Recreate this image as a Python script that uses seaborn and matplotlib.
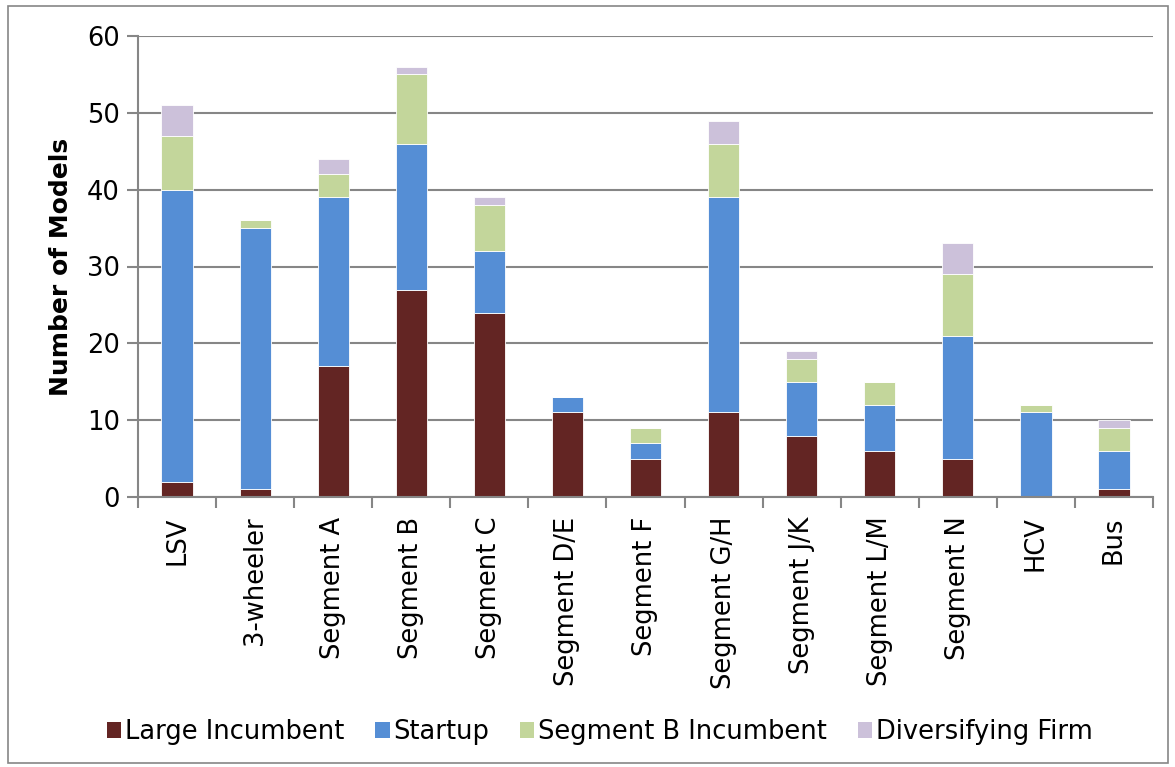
import matplotlib
matplotlib.use("Agg")
import matplotlib.pyplot as plt
import seaborn as sns
import numpy as np
from matplotlib.patches import Patch, Rectangle
from matplotlib.ticker import FixedLocator

categories = ["LSV", "3-wheeler", "Segment A", "Segment B", "Segment C", "Segment D/E",
              "Segment F", "Segment G/H", "Segment J/K", "Segment L/M", "Segment N", "HCV", "Bus"]
large_incumbent = [2, 1, 17, 27, 24, 11, 5, 11, 8, 6, 5, 0, 1]
startup = [38, 34, 22, 19, 8, 2, 2, 28, 7, 6, 16, 11, 5]
segment_b_incumbent = [7, 1, 3, 9, 6, 0, 2, 7, 3, 3, 8, 1, 3]
diversifying_firm = [4, 0, 2, 1, 1, 0, 0, 3, 1, 0, 4, 0, 1]

series_names = ["Large Incumbent", "Startup", "Segment B Incumbent", "Diversifying Firm"]
series_values = [large_incumbent, startup, segment_b_incumbent, diversifying_firm]
colors = ["#632523", "#558ED5", "#C3D69B", "#CCC1DA"]

sns.set_style("white")
plt.rcParams['font.family'] = ['DejaVu Sans']
plt.rcParams['text.color'] = 'black'

fig = plt.figure(figsize=(11.75, 7.67), dpi=100)
ax = fig.add_axes([138/1175, 1-497/767, (1153-138)/1175, (497-36)/767])

bottom = np.zeros(len(categories))
for name, vals, col in zip(series_names, series_values, colors):
    sns.barplot(x=categories, y=vals, bottom=bottom, color=col, width=0.4,
                ax=ax, edgecolor="white", linewidth=0.6, saturation=1)
    bottom = bottom + np.array(vals)

ax.set_xlim(-0.5, len(categories) - 0.5)
ax.set_ylim(0, 60)
ax.set_yticks(range(0, 61, 10))
ax.yaxis.grid(True, color="#868686", linewidth=1.5)
ax.set_axisbelow(True)
for s in ["top", "right"]:
    ax.spines[s].set_visible(False)
for s in ["left", "bottom"]:
    ax.spines[s].set_color("#868686")
    ax.spines[s].set_linewidth(1.5)

ax.tick_params(axis="y", which="major", length=8, width=1.5, color="#868686",
               labelsize=18.5, labelcolor="black", pad=5, left=True)
ax.tick_params(axis="x", which="major", length=0, labelsize=18.5, labelcolor="black",
               rotation=90, pad=14)
ax.xaxis.set_minor_locator(FixedLocator(np.arange(-0.5, len(categories), 1.0)))
ax.tick_params(axis="x", which="minor", length=8, width=1.5, color="#868686", bottom=True)

ax.set_xlabel("")
ax.set_ylabel("Number of Models", fontsize=18, fontweight="bold", labelpad=10, color="black")

handles = [Patch(facecolor=c, edgecolor="none", label=n) for n, c in zip(series_names, colors)]
leg = fig.legend(handles=handles, loc="center", bbox_to_anchor=(600/1175, 1-732/767), ncol=4,
                 frameon=False, fontsize=18.5, handlelength=0.55, handleheight=0.55,
                 handletextpad=0.15, columnspacing=1.2)
for t in leg.get_texts():
    t.set_color("black")

fig.patches.append(Rectangle((8/1175, 4/767), 1160/1175, 757/767, transform=fig.transFigure,
                             fill=False, edgecolor="#868686", linewidth=1.2))

fig.savefig("out.png", dpi=100)
